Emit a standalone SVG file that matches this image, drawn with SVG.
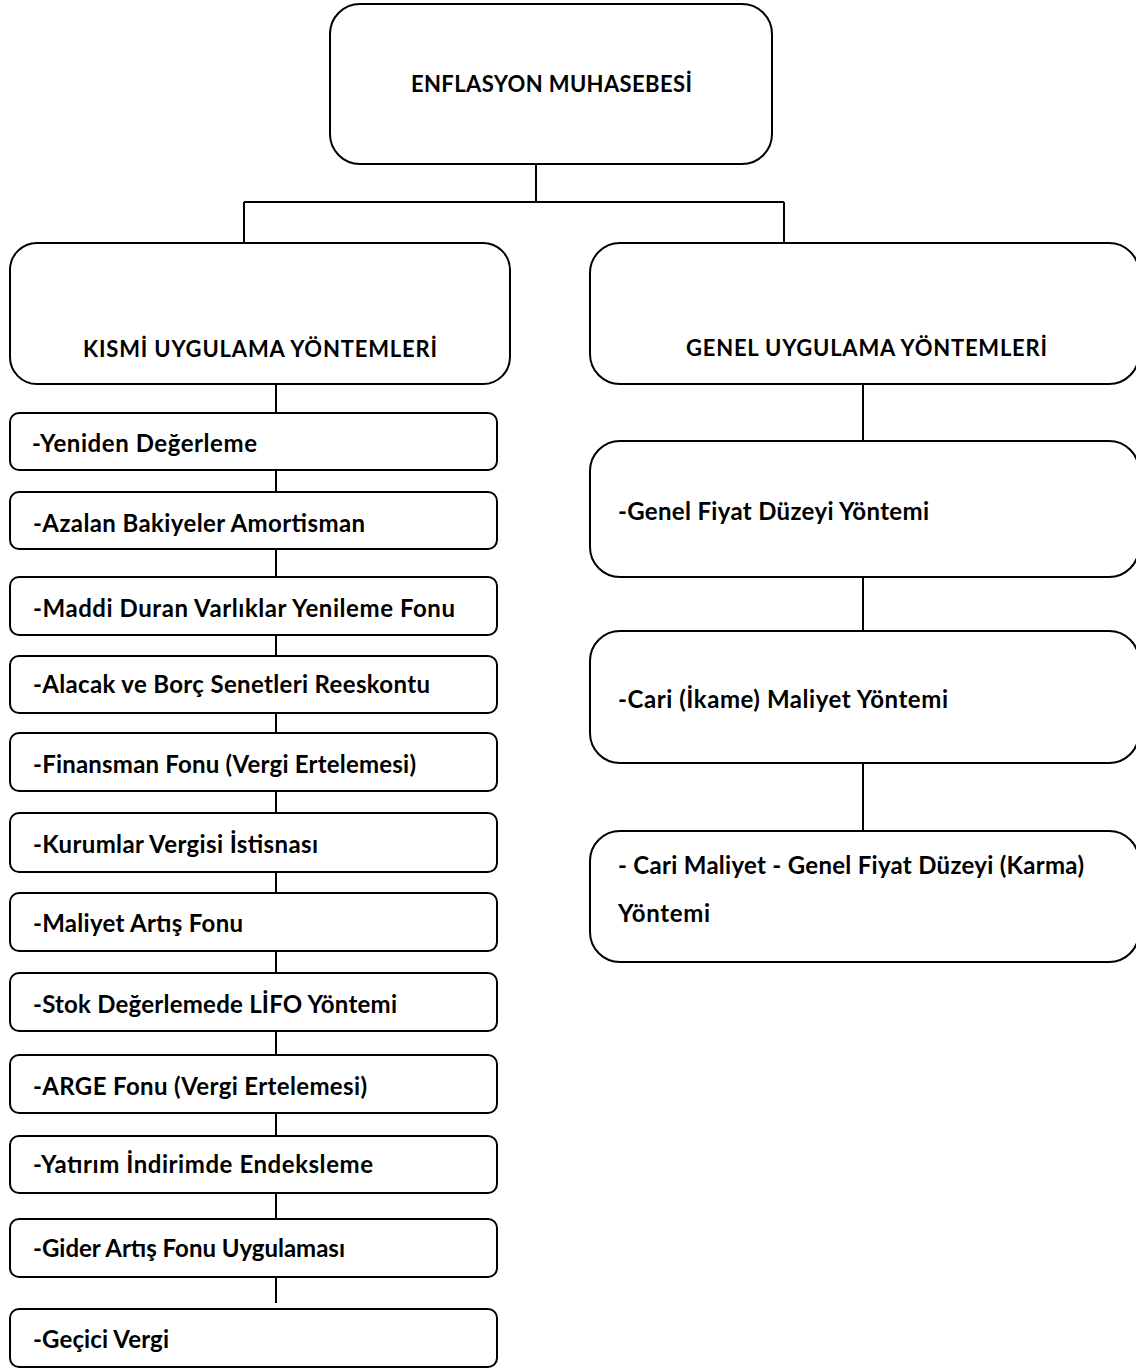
<svg xmlns="http://www.w3.org/2000/svg" width="1136" height="1369" viewBox="0 0 1136 1369">
<style>
.box{fill:#fff;stroke:#000;stroke-width:2}
.con{fill:none;stroke:#000;stroke-width:2}
text{font-family:Lato,"Open Sans","Liberation Sans",sans-serif;font-weight:700;font-size:24px;fill:#000}
text.h{font-size:22px}
</style>
<rect width="1136" height="1369" fill="#fff"/>
<g id="connectors" class="con">
<path d="M536,164 V202 M244,202 H784 M244,202 V242 M784,202 V242"/>
<path d="M276,384 V413 M276,470 V492 M276,549 V577 M276,631 V656 M276,713 V733 M276,791 V813 M276,872 V893 M276,951 V973 M276,1031 V1055 M276,1113 V1136 M276,1193 V1219 M276,1277 V1303"/>
<path d="M863,384 V441 M863,577 V631 M863,763 V831"/>
</g>
<g id="root"><rect class="box" x="330" y="4" width="442" height="160" rx="30"/><text class="h" x="411" y="92" textLength="281">ENFLASYON MUHASEBESİ</text></g>
<g id="kismi"><rect class="box" x="10" y="243" width="500" height="141" rx="27"/><text class="h" x="83" y="357" textLength="354">KISMİ UYGULAMA YÖNTEMLERİ</text></g>
<g id="genel"><rect class="box" x="590" y="243" width="549" height="141" rx="30"/><text class="h" x="686" y="356" textLength="361">GENEL UYGULAMA YÖNTEMLERİ</text></g>
<g id="k1"><rect class="box" x="10" y="413" width="487" height="57" rx="9"/><text x="32" y="452" textLength="225">-Yeniden Değerleme</text></g>
<g id="k2"><rect class="box" x="10" y="492" width="487" height="57" rx="9"/><text x="33" y="532" textLength="332">-Azalan Bakiyeler Amortisman</text></g>
<g id="k3"><rect class="box" x="10" y="577" width="487" height="58" rx="9"/><text x="33" y="617" textLength="422">-Maddi Duran Varlıklar Yenileme Fonu</text></g>
<g id="k4"><rect class="box" x="10" y="656" width="487" height="57" rx="9"/><text x="33" y="693" textLength="397">-Alacak ve Borç Senetleri Reeskontu</text></g>
<g id="k5"><rect class="box" x="10" y="733" width="487" height="58" rx="9"/><text x="33" y="773" textLength="383">-Finansman Fonu (Vergi Ertelemesi)</text></g>
<g id="k6"><rect class="box" x="10" y="813" width="487" height="59" rx="9"/><text x="33" y="853" textLength="285">-Kurumlar Vergisi İstisnası</text></g>
<g id="k7"><rect class="box" x="10" y="893" width="487" height="58" rx="9"/><text x="33" y="932" textLength="210">-Maliyet Artış Fonu</text></g>
<g id="k8"><rect class="box" x="10" y="973" width="487" height="58" rx="9"/><text x="33" y="1013" textLength="364">-Stok Değerlemede LİFO Yöntemi</text></g>
<g id="k9"><rect class="box" x="10" y="1055" width="487" height="58" rx="9"/><text x="33" y="1095" textLength="334">-ARGE Fonu (Vergi Ertelemesi)</text></g>
<g id="k10"><rect class="box" x="10" y="1136" width="487" height="57" rx="9"/><text x="33" y="1173" textLength="340">-Yatırım İndirimde Endeksleme</text></g>
<g id="k11"><rect class="box" x="10" y="1219" width="487" height="58" rx="9"/><text x="33" y="1257" textLength="312">-Gider Artış Fonu Uygulaması</text></g>
<g id="k12"><rect class="box" x="10" y="1309" width="487" height="58" rx="9"/><text x="33" y="1348" textLength="136">-Geçici Vergi</text></g>
<g id="g1"><rect class="box" x="590" y="441" width="549" height="136" rx="30"/><text x="618" y="520" textLength="311">-Genel Fiyat Düzeyi Yöntemi</text></g>
<g id="g2"><rect class="box" x="590" y="631" width="549" height="132" rx="30"/><text x="618" y="708" textLength="330">-Cari (İkame) Maliyet Yöntemi</text></g>
<g id="g3"><rect class="box" x="590" y="831" width="549" height="131" rx="30"/><text x="618" y="874" textLength="466">- Cari Maliyet - Genel Fiyat Düzeyi (Karma)</text><text x="618" y="922" textLength="92">Yöntemi</text></g>
</svg>
